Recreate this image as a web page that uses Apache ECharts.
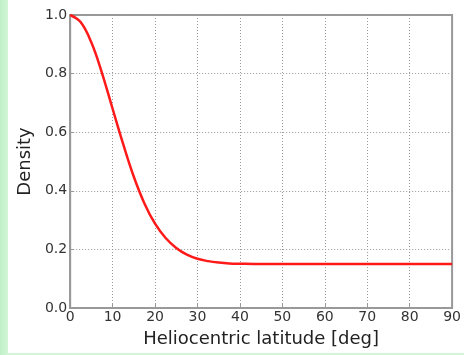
<!DOCTYPE html>
<html>
<head>
<meta charset="utf-8">
<script src="https://cdn.jsdelivr.net/npm/echarts@6/dist/echarts.min.js"></script>
<style>
  html, body { margin: 0; padding: 0; width: 464px; height: 355px; overflow: hidden;
    background: linear-gradient(90deg, #bff0c6 0px, #d2f6d6 8px); }
  #chart { position: absolute; left: 8px; top: 0; width: 456px; height: 353px; background: #ffffff; }
</style>
</head>
<body>
<div id="chart"></div>
<script>
// Heliocentric latitude (deg) and relative density
const latitude = [0, 2.5, 5, 7.5, 10, 12.5, 15, 17.5, 20, 22.5, 25, 27.5, 30, 32.5, 35, 37.5, 40, 45, 50, 60, 70, 80, 90];
const density  = [1.0, 0.975, 0.906, 0.802, 0.68, 0.559, 0.448, 0.357, 0.288, 0.239, 0.205, 0.182, 0.168, 0.16, 0.155, 0.152, 0.151, 0.15, 0.15, 0.15, 0.15, 0.15, 0.15];
const xTicks = [0, 10, 20, 30, 40, 50, 60, 70, 80, 90];
const yTicks = [0.0, 0.2, 0.4, 0.6, 0.8, 1.0];

const chart = echarts.init(document.getElementById('chart'), null, { renderer: 'canvas' });
const font = 'DejaVu Sans';
chart.setOption({
  animation: false,
  grid: { left: 62, right: 7, top: 15, bottom: 39, show: true, borderColor: '#999', borderWidth: 2, backgroundColor: 'transparent' },
  xAxis: {
    type: 'value', min: xTicks[0], max: xTicks[xTicks.length - 1], interval: 10,
    name: 'Heliocentric latitude [deg]', nameLocation: 'middle', nameGap: 22,
    nameTextStyle: { fontFamily: font, fontSize: 18, color: '#222' },
    axisLine: { lineStyle: { color: '#999', width: 2 } },
    axisTick: { inside: true, length: 4, lineStyle: { color: '#999' } },
    axisLabel: { fontFamily: font, fontSize: 14, color: '#333', margin: 2 },
    splitLine: { show: true, lineStyle: { color: '#999', type: [1, 2], width: 1 } }
  },
  yAxis: {
    type: 'value', min: yTicks[0], max: yTicks[yTicks.length - 1], interval: 0.2,
    name: 'Density', nameLocation: 'middle', nameGap: 26, nameRotate: 90,
    nameTextStyle: { fontFamily: font, fontSize: 18, color: '#222' },
    axisLine: { lineStyle: { color: '#999', width: 2 } },
    axisTick: { inside: true, length: 4, lineStyle: { color: '#999' } },
    axisLabel: { fontFamily: font, fontSize: 14, color: '#333', margin: 3,
      formatter: v => v.toFixed(1) },
    splitLine: { show: true, lineStyle: { color: '#999', type: [1, 2], width: 1 } }
  },
  series: [{
    type: 'line', data: latitude.map((x, i) => [x, density[i]]),
    smooth: 0.4, showSymbol: false,
    lineStyle: { color: '#ff1a1a', width: 2.5 }
  }]
});
</script>
</body>
</html>
